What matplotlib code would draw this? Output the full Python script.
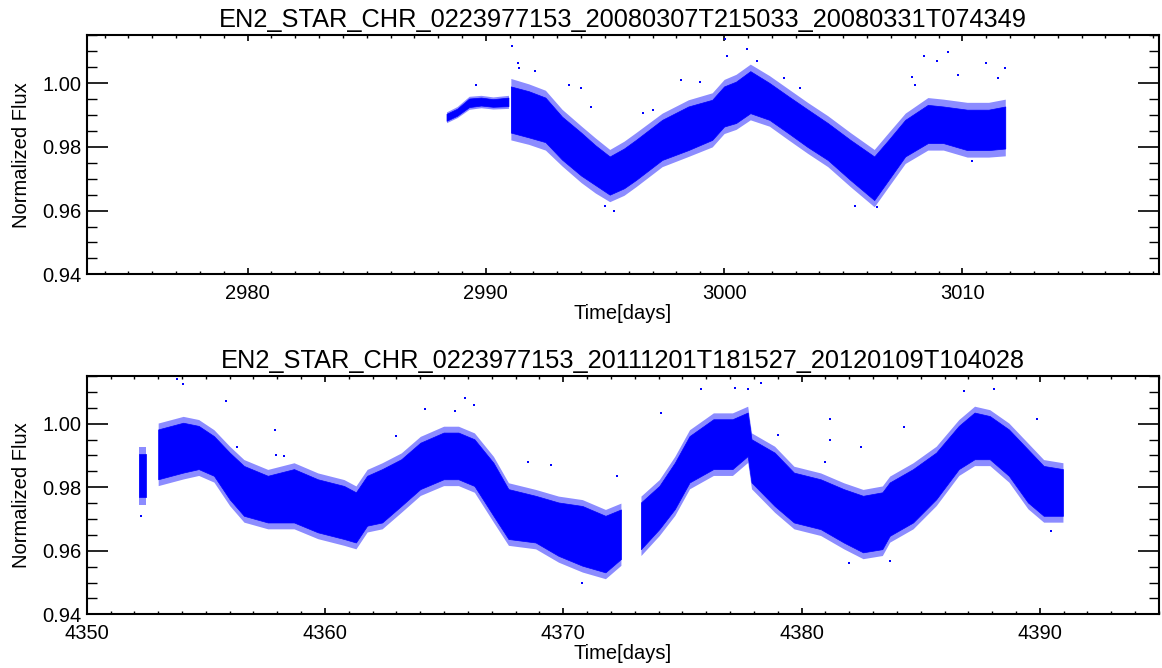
#!/usr/bin/env python3
"""Two CoRoT light curves: normalized flux vs time, drawn as IDL-style panels."""

import matplotlib
matplotlib.use("Agg")
import matplotlib.pyplot as plt
from matplotlib.ticker import MultipleLocator

# ── Style ────────────────────────────────────────────────────────────────
plt.rcParams.update({
    "font.family": ["Liberation Sans", "DejaVu Sans"],
    "font.size": 14.5,
    "axes.linewidth": 1.5,
    "xtick.direction": "in",
    "ytick.direction": "in",
    "xtick.top": True,
    "ytick.right": True,
})

BLUE = "#0000FF"

# ── Data ────────────────────────────────────────────────────────────────
# Each segment: core band (dense points) and outer band (sparser fringe).
TITLE_1 = "EN2_STAR_CHR_0223977153_20080307T215033_20080331T074349"
TITLE_2 = "EN2_STAR_CHR_0223977153_20111201T181527_20120109T104028"

# panel 1, short early segment
p1a_time = [2988.35, 2988.8, 2989.3, 2989.8, 2990.3, 2990.95]
p1a_lo = [0.9882, 0.9898, 0.9925, 0.9930, 0.9926, 0.9928]
p1a_hi = [0.9904, 0.9920, 0.9952, 0.9955, 0.9950, 0.9955]
p1a_out_lo = [0.9876, 0.9892, 0.9918, 0.9923, 0.9919, 0.9921]
p1a_out_hi = [0.9910, 0.9927, 0.9959, 0.9962, 0.9957, 0.9962]

# panel 1, main segment
p1b_time = [2991.05, 2991.8, 2992.5, 2993.2, 2994.0, 2994.6, 2995.2, 2995.8,
            2996.3, 2997.4, 2998.5, 2999.5, 3000.0, 3000.5, 3001.1, 3001.9,
            3002.7, 3003.5, 3004.35, 3005.3, 3006.3, 3006.9, 3007.6, 3008.55,
            3009.2, 3010.2, 3011.1, 3011.8]
p1b_lo = [0.9845, 0.9830, 0.9815, 0.9760, 0.9710, 0.9680, 0.9650, 0.9670,
          0.9696, 0.9759, 0.9790, 0.9822, 0.9864, 0.9875, 0.9906, 0.9885,
          0.9843, 0.9800, 0.9759, 0.9696, 0.9633, 0.9696, 0.9770, 0.9812,
          0.9812, 0.9790, 0.9790, 0.9795]
p1b_hi = [0.9990, 0.9975, 0.9955, 0.9895, 0.9845, 0.9805, 0.9770, 0.9795,
          0.9822, 0.9885, 0.9927, 0.9948, 0.9990, 1.0005, 1.0038, 1.0001,
          0.9959, 0.9918, 0.9875, 0.9822, 0.9770, 0.9822, 0.9885, 0.9932,
          0.9927, 0.9917, 0.9917, 0.9927]
p1b_out_lo = [0.9822, 0.9808, 0.9790, 0.9740, 0.9688, 0.9655, 0.9628, 0.9648,
              0.9675, 0.9738, 0.9770, 0.9800, 0.9842, 0.9855, 0.9885, 0.9865,
              0.9822, 0.9780, 0.9738, 0.9675, 0.9612, 0.9675, 0.9748, 0.9790,
              0.9790, 0.9768, 0.9768, 0.9772]
p1b_out_hi = [1.0015, 0.9998, 0.9978, 0.9918, 0.9866, 0.9828, 0.9792, 0.9818,
              0.9845, 0.9906, 0.9948, 0.9970, 1.0012, 1.0028, 1.0060, 1.0024,
              0.9982, 0.9940, 0.9898, 0.9845, 0.9792, 0.9845, 0.9906, 0.9955,
              0.9950, 0.9940, 0.9940, 0.9950]

p1_pts_time = [2991.09, 2991.33, 2991.41, 2992.06, 2994.0, 2989.6, 2998.2,
               3000.03, 3000.13, 3000.97, 3001.37, 3008.4, 3008.95, 3009.4,
               3010.97, 3011.77, 2995.4, 3005.5, 3006.4, 2993.5, 2996.6,
               2997.0, 2999.0, 3002.5, 3003.2, 3007.9, 3008.0, 3009.8,
               3011.5, 2995.0, 3010.4, 2994.4]
p1_pts_flux = [1.0117, 1.0064, 1.0048, 1.0038, 0.9985, 0.9996, 1.0010,
               1.0138, 1.0085, 1.0106, 1.0070, 1.0085, 1.0070, 1.0098,
               1.0064, 1.0048, 0.9600, 0.9615, 0.9612, 0.9995, 0.9905,
               0.9915, 1.0003, 1.0015, 0.9985, 1.0020, 0.9995, 1.0025,
               1.0015, 0.9615, 0.9755, 0.9925]

# panel 2, short first cluster
p2a_time = [4352.2, 4352.5]
p2a_lo = [0.9770, 0.9770]
p2a_hi = [0.9905, 0.9905]
p2a_out_lo = [0.9745, 0.9745]
p2a_out_hi = [0.9925, 0.9925]

# panel 2, second segment
p2b_time = [4353.0, 4354.05, 4354.7, 4355.34, 4356.0, 4356.6, 4357.6, 4358.7,
            4359.7, 4360.8, 4361.3, 4361.77, 4362.4, 4363.2, 4364.0, 4364.98,
            4365.6, 4366.27, 4367.07, 4367.7, 4368.84, 4369.8, 4370.8,
            4371.77, 4372.42]
p2b_lo = [0.9825, 0.9846, 0.9857, 0.9836, 0.9762, 0.9710, 0.9689, 0.9689,
          0.9658, 0.9637, 0.9626, 0.9679, 0.9689, 0.9741, 0.9794, 0.9825,
          0.9825, 0.9804, 0.9710, 0.9637, 0.9626, 0.9584, 0.9553,
          0.9532, 0.9574]
p2b_hi = [0.9982, 1.0003, 0.9993, 0.9961, 0.9909, 0.9867, 0.9836, 0.9857,
          0.9825, 0.9804, 0.9784, 0.9836, 0.9857, 0.9888, 0.9940, 0.9972,
          0.9972, 0.9951, 0.9877, 0.9794, 0.9773, 0.9752, 0.9741,
          0.9710, 0.9730]
p2b_out_lo = [0.9805, 0.9826, 0.9837, 0.9816, 0.9742, 0.9690, 0.9669, 0.9669,
              0.9638, 0.9617, 0.9606, 0.9659, 0.9669, 0.9721, 0.9774, 0.9805,
              0.9805, 0.9784, 0.9690, 0.9617, 0.9606, 0.9564, 0.9533,
              0.9512, 0.9554]
p2b_out_hi = [1.0002, 1.0023, 1.0013, 0.9981, 0.9929, 0.9887, 0.9856, 0.9877,
              0.9845, 0.9824, 0.9804, 0.9856, 0.9877, 0.9908, 0.9960, 0.9992,
              0.9992, 0.9971, 0.9897, 0.9814, 0.9793, 0.9772, 0.9761,
              0.9730, 0.9750]

# panel 2, third segment
p2c_time = [4373.26, 4374.03, 4374.68, 4375.3, 4376.3, 4377.1, 4377.74,
            4377.9, 4378.87, 4379.68, 4380.8, 4381.77, 4382.58, 4383.39,
            4383.7, 4384.68, 4385.65, 4386.6, 4387.26, 4387.9, 4388.7,
            4389.5, 4390.16, 4390.97]
p2c_lo = [0.9605, 0.9668, 0.9731, 0.9815, 0.9857, 0.9857, 0.9898,
          0.9815, 0.9741, 0.9689, 0.9668, 0.9626, 0.9595, 0.9605,
          0.9647, 0.9689, 0.9762, 0.9857, 0.9888, 0.9888, 0.9836,
          0.9752, 0.9710, 0.9710]
p2c_hi = [0.9752, 0.9804, 0.9877, 0.9961, 1.0014, 1.0014, 1.0035,
          0.9951, 0.9909, 0.9846, 0.9825, 0.9794, 0.9773, 0.9784,
          0.9815, 0.9857, 0.9909, 0.9993, 1.0035, 1.0024, 0.9982,
          0.9919, 0.9867, 0.9857]
p2c_out_lo = [0.9585, 0.9648, 0.9711, 0.9795, 0.9837, 0.9837, 0.9878,
              0.9795, 0.9721, 0.9669, 0.9648, 0.9606, 0.9575, 0.9585,
              0.9627, 0.9669, 0.9742, 0.9837, 0.9868, 0.9868, 0.9816,
              0.9732, 0.9690, 0.9690]
p2c_out_hi = [0.9772, 0.9824, 0.9897, 0.9981, 1.0034, 1.0034, 1.0055,
              0.9971, 0.9929, 0.9866, 0.9845, 0.9814, 0.9793, 0.9804,
              0.9835, 0.9877, 0.9929, 1.0013, 1.0055, 1.0044, 1.0002,
              0.9939, 0.9887, 0.9877]

p2_pts_time = [4353.8, 4354.05, 4355.85, 4358.3, 4364.2, 4365.47, 4365.87,
               4366.27, 4352.28, 4370.77, 4375.8, 4377.74, 4378.3, 4377.2,
               4386.8, 4388.06, 4382.0, 4383.7, 4390.48, 4381.2, 4381.2,
               4356.3, 4357.9, 4357.95, 4363.0, 4368.5, 4369.5, 4372.26,
               4379.0, 4381.0, 4382.5, 4384.3, 4389.9, 4374.1]
p2_pts_flux = [1.0140, 1.0124, 1.0071, 0.9898, 1.0045, 1.0040, 1.0082,
               1.0058, 0.9710, 0.9500, 1.0108, 1.0108, 1.0129, 1.0113,
               1.0103, 1.0110, 0.9563, 0.9569, 0.9663, 1.0014, 0.9950,
               0.9925, 0.9980, 0.9900, 0.9960, 0.9880, 0.9870, 0.9836,
               0.9965, 0.9880, 0.9925, 0.9990, 1.0014, 1.0035]

XLIM_1 = (2973.25, 3018.25)
XLIM_2 = (4350.0, 4395.0)
YLIM = (0.94, 1.015)


def style_axis(ax, title, xlim):
    ax.set_xlim(*xlim)
    ax.set_ylim(*YLIM)
    ax.set_title(title, fontsize=18.3, pad=6)
    ax.set_xlabel("Time[days]", fontsize=14.5, labelpad=1)
    ax.set_ylabel("Normalized Flux", fontsize=14.5, labelpad=8)
    ax.xaxis.set_major_locator(MultipleLocator(10))
    ax.xaxis.set_minor_locator(MultipleLocator(1))
    ax.yaxis.set_major_locator(MultipleLocator(0.02))
    ax.yaxis.set_minor_locator(MultipleLocator(0.005))
    ax.yaxis.set_major_formatter(plt.FormatStrFormatter("%.2f"))
    ax.tick_params(axis="x", which="major", length=4, width=1.2, pad=7)
    ax.tick_params(axis="x", which="minor", length=2, width=1.0)
    ax.tick_params(axis="y", which="major", length=15, width=1.2, pad=4)
    ax.tick_params(axis="y", which="minor", length=7.5, width=1.0)


def draw_band(ax, t, lo, hi, out_lo, out_hi):
    ax.fill_between(t, out_lo, out_hi, color=BLUE, alpha=0.45, linewidth=0)
    ax.fill_between(t, lo, hi, color=BLUE, linewidth=0.5, edgecolor=BLUE)


def main():
    fig = plt.figure(figsize=(11.62, 6.68), dpi=100)
    ax1 = fig.add_axes([0.0746, 0.5894, 0.9228, 0.3575])
    ax2 = fig.add_axes([0.0746, 0.0804, 0.9228, 0.3567])

    draw_band(ax1, p1a_time, p1a_lo, p1a_hi, p1a_out_lo, p1a_out_hi)
    draw_band(ax1, p1b_time, p1b_lo, p1b_hi, p1b_out_lo, p1b_out_hi)
    ax1.plot(p1_pts_time, p1_pts_flux, "s", color=BLUE, markersize=2,
             markeredgewidth=0)
    style_axis(ax1, TITLE_1, XLIM_1)

    draw_band(ax2, p2a_time, p2a_lo, p2a_hi, p2a_out_lo, p2a_out_hi)
    draw_band(ax2, p2b_time, p2b_lo, p2b_hi, p2b_out_lo, p2b_out_hi)
    draw_band(ax2, p2c_time, p2c_lo, p2c_hi, p2c_out_lo, p2c_out_hi)
    ax2.plot(p2_pts_time, p2_pts_flux, "s", color=BLUE, markersize=2,
             markeredgewidth=0)
    style_axis(ax2, TITLE_2, XLIM_2)

    fig.savefig("out.png", dpi=100)
    plt.close(fig)


if __name__ == "__main__":
    main()
